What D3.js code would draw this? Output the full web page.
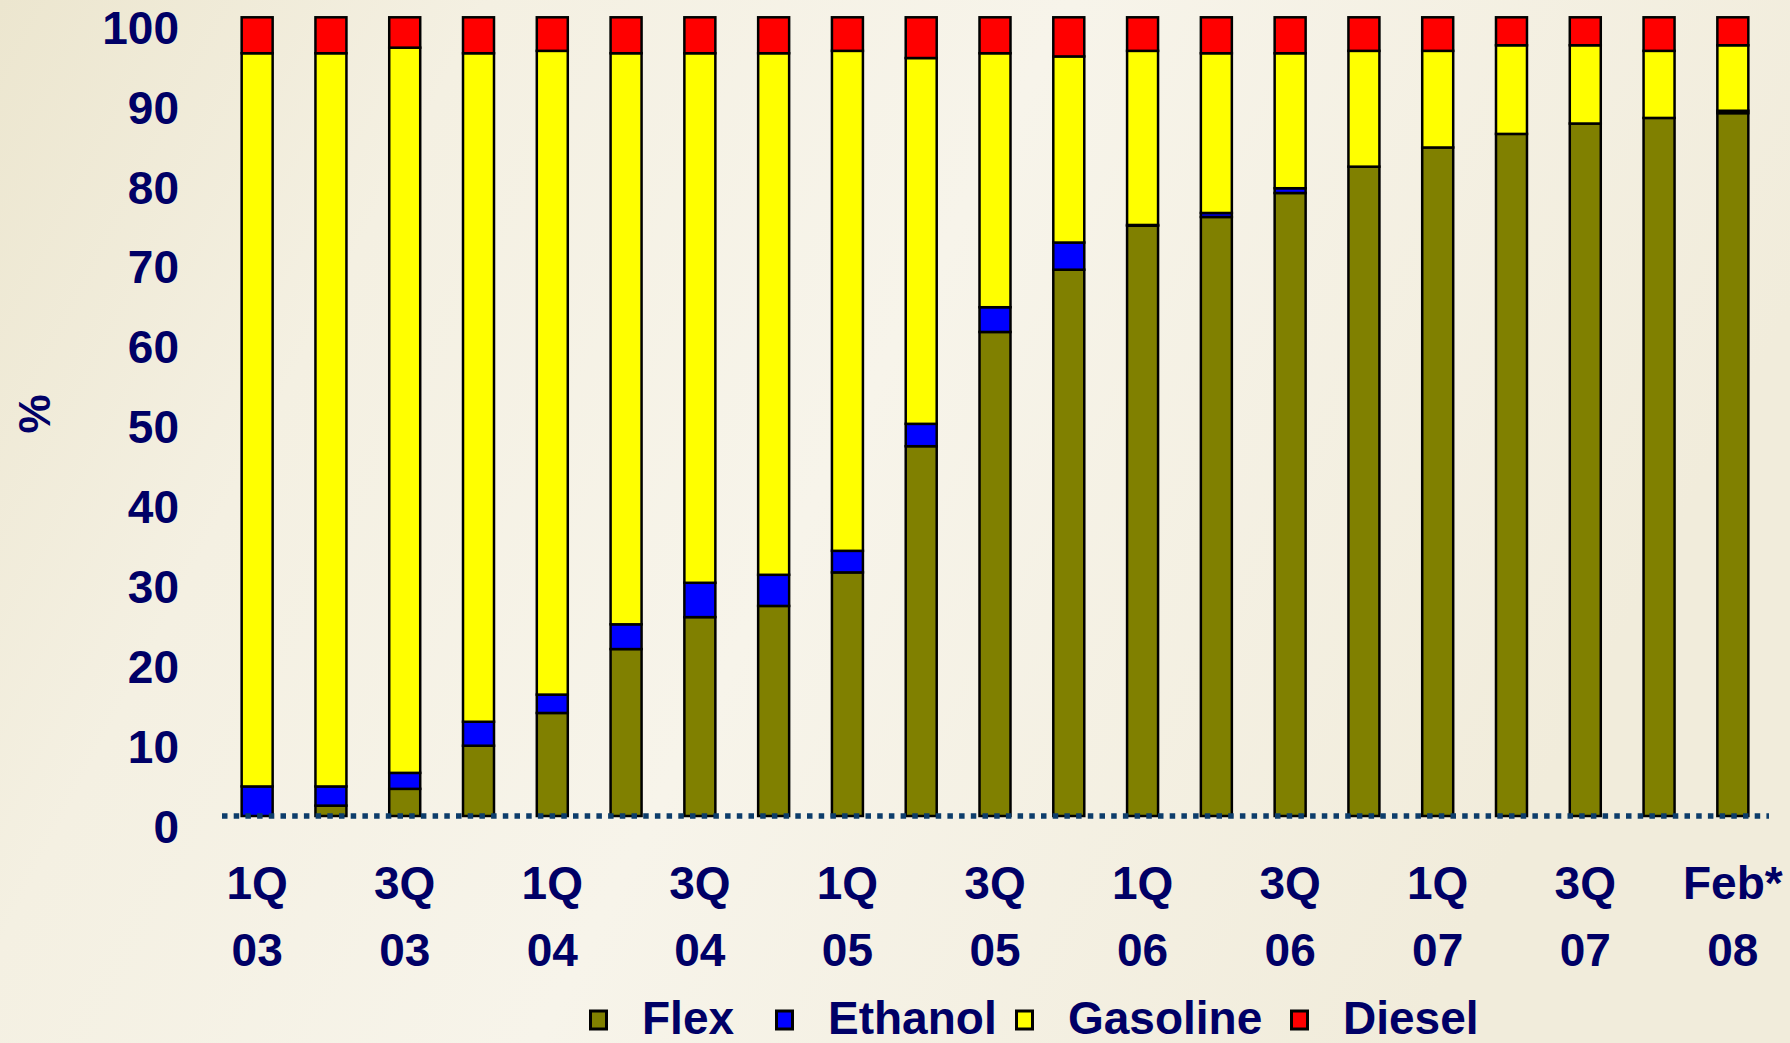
<!DOCTYPE html>
<html>
<head>
<meta charset="utf-8">
<script src="https://cdn.jsdelivr.net/npm/d3@7/dist/d3.min.js"></script>
<style>
  html, body { margin: 0; padding: 0; overflow: hidden; }
  body { width: 1790px; height: 1043px; }
  text { font-family: "Liberation Sans", Arial, sans-serif; font-weight: bold; }
</style>
</head>
<body>
<svg id="chart" width="1790" height="1043"></svg>
<script>
// ---- data ----
const categories = ["1Q 03","2Q 03","3Q 03","4Q 03","1Q 04","2Q 04","3Q 04","4Q 04",
  "1Q 05","2Q 05","3Q 05","4Q 05","1Q 06","2Q 06","3Q 06","4Q 06",
  "1Q 07","2Q 07","3Q 07","4Q 07","Feb* 08"];
const flex     = [0, 1.3, 3.4, 8.8, 12.9, 20.9, 24.9, 26.3, 30.5, 46.3, 60.6, 68.4, 73.9, 75.0, 78.0, 81.3, 83.7, 85.4, 86.7, 87.4, 88.0];
const ethanol  = [3.7, 2.4, 2.0, 3.0, 2.3, 3.1, 4.3, 3.9, 2.7, 2.8, 3.1, 3.4, 0.1, 0.5, 0.6, 0, 0, 0, 0, 0, 0.3];
const gasoline = [91.8, 91.8, 90.8, 83.7, 80.6, 71.5, 66.3, 65.3, 62.6, 45.8, 31.8, 23.3, 21.8, 20.0, 16.9, 14.5, 12.1, 11.1, 9.8, 8.4, 8.2];
const diesel   = [4.5, 4.5, 3.8, 4.5, 4.2, 4.5, 4.5, 4.5, 4.2, 5.1, 4.5, 4.9, 4.2, 4.5, 4.5, 4.2, 4.2, 3.5, 3.5, 4.2, 3.5];
const seriesNames = ["Flex", "Ethanol", "Gasoline", "Diesel"];
const seriesColors = ["#808000", "#0000ff", "#ffff00", "#ff0000"];
const yTicks = [0, 10, 20, 30, 40, 50, 60, 70, 80, 90, 100];
const yLabel = "%";

// ---- build table ----
const table = categories.map((c, i) => ({
  cat: c, Flex: flex[i], Ethanol: ethanol[i], Gasoline: gasoline[i], Diesel: diesel[i]
}));
const stacked = d3.stack().keys(seriesNames)(table);

const svg = d3.select("#chart");
const navy = "#000066";

// background
const defs = svg.append("defs");
const grad = defs.append("linearGradient").attr("id", "bg").attr("x1", 0).attr("x2", 1).attr("y1", 0).attr("y2", 0.3);
grad.append("stop").attr("offset", "0%").attr("stop-color", "#ece6cf");
grad.append("stop").attr("offset", "25%").attr("stop-color", "#f4f0e2");
grad.append("stop").attr("offset", "55%").attr("stop-color", "#f7f4ea");
grad.append("stop").attr("offset", "100%").attr("stop-color", "#f1ecdb");
svg.append("rect").attr("width", 1790).attr("height", 1043).attr("fill", "url(#bg)");

// scales
const x = d3.scaleBand().domain(categories).range([221, 1769]).paddingInner(0.58).paddingOuter(0.28);
const y = d3.scaleLinear().domain([0, 100]).range([816, 17.3]);

// y tick labels
const yAxis = d3.axisLeft(y).tickValues(yTicks).tickSize(0).tickPadding(0);
const yg = svg.append("g").attr("transform", "translate(179,0)").call(yAxis);
yg.select(".domain").remove();
yg.selectAll("text")
  .attr("x", 0).attr("dy", null).attr("y", 26)
  .attr("text-anchor", "end")
  .attr("fill", navy)
  .style("font-size", "46px")
  .style("font-family", "'Liberation Sans', Arial, sans-serif")
  .style("font-weight", "bold");

// y axis title
svg.append("text")
  .attr("transform", "translate(50,414) rotate(-90)")
  .attr("text-anchor", "middle")
  .attr("fill", navy)
  .style("font-size", "44px")
  .text(yLabel);

// bars
const layers = svg.append("g").selectAll("g").data(stacked).join("g")
  .attr("fill", (d, i) => seriesColors[i]);
layers.selectAll("rect").data(d => d).join("rect")
  .attr("x", d => x(d.data.cat))
  .attr("width", x.bandwidth())
  .attr("y", d => y(d[1]))
  .attr("height", d => Math.max(0, y(d[0]) - y(d[1])))
  .attr("stroke", "#000")
  .attr("stroke-width", 2.5);

// dotted baseline
svg.append("line")
  .attr("x1", 222).attr("x2", 1769)
  .attr("y1", y(0)).attr("y2", y(0))
  .attr("stroke", "#0d3d6b")
  .attr("stroke-width", 5.5)
  .attr("stroke-dasharray", "5.5,6.2");

// x labels (every other category)
const xg = svg.append("g");
categories.forEach((c, i) => {
  if (i % 2 !== 0) return;
  const parts = c.split(" ");
  const cx = x(c) + x.bandwidth() / 2;
  const t = xg.append("text").attr("text-anchor", "middle").attr("fill", navy)
    .style("font-size", "46px");
  t.append("tspan").attr("x", cx).attr("y", 899).text(parts[0]);
  t.append("tspan").attr("x", cx).attr("y", 966).text(parts[1]);
});

// legend
const legendX = [589, 775, 1015, 1290];
const lg = svg.append("g");
seriesNames.forEach((name, i) => {
  lg.append("rect")
    .attr("x", legendX[i] + 1.5).attr("y", 1011)
    .attr("width", 16).attr("height", 18)
    .attr("fill", seriesColors[i])
    .attr("stroke", "#000").attr("stroke-width", 3);
  lg.append("text")
    .attr("x", legendX[i] + 53).attr("y", 1034)
    .attr("fill", navy)
    .style("font-size", "46px")
    .text(name);
});
</script>
</body>
</html>
